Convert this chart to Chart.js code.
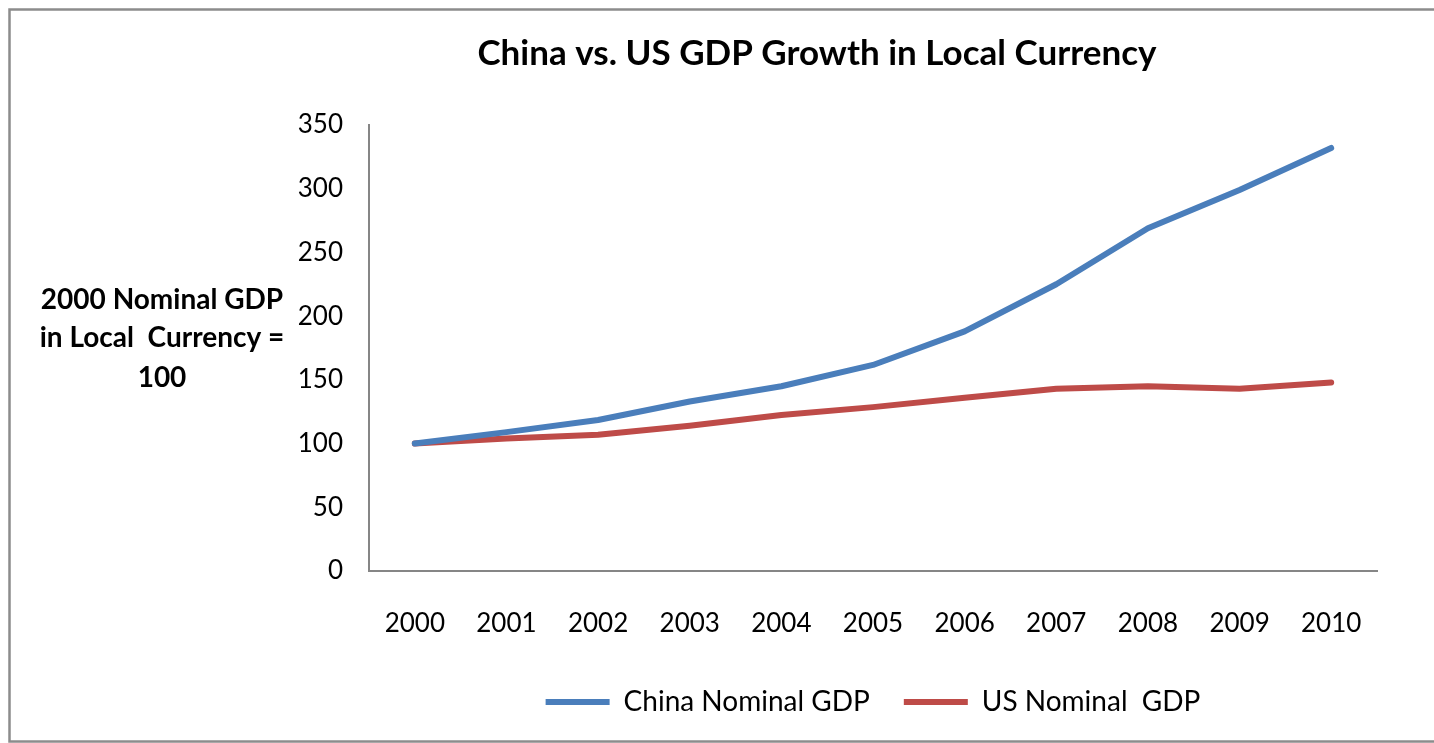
<!DOCTYPE html>
<html>
<head>
<meta charset="utf-8">
<script src="https://cdn.jsdelivr.net/npm/chart.js@4.4.1/dist/chart.umd.min.js"></script>
<style>
  html, body { margin: 0; padding: 0; background: #fff; }
  #wrap { position: relative; width: 1434px; height: 743px; }
</style>
</head>
<body>
<div id="wrap"><canvas id="gdpChart" width="1434" height="743"></canvas></div>
<script>
const years = ['2000', '2001', '2002', '2003', '2004', '2005', '2006', '2007', '2008', '2009', '2010'];
// nominal GDP indexed to 2000 = 100
const chinaGdp = [100, 109, 118.5, 133, 145, 161.7, 188, 225, 269, 299, 332];
const usGdp = [100, 104, 107, 114, 122.5, 128.6, 136, 143, 145, 143, 148];
const seriesNames = ['China Nominal GDP', 'US Nominal  GDP'];
const chartTitle = 'China vs. US GDP Growth in Local Currency';
const yCaption = ['2000 Nominal GDP', 'in Local  Currency =', '100'];
const yMin = 0;
const yMax = 350;
const yStep = 50;

const FONT = 'Lato, "Open Sans", sans-serif';

// frame, title and the horizontal y caption
const decorations = {
  id: 'decorations',
  beforeDraw(chart) {
    const ctx = chart.ctx;
    ctx.save();
    ctx.fillStyle = '#fff';
    ctx.fillRect(0, 0, chart.width, chart.height);
    ctx.strokeStyle = '#8c8c8c';
    ctx.lineWidth = 2.5;
    ctx.strokeRect(9.5, 9.5, chart.width + 20, chart.height - 11);
    ctx.restore();
  },
  afterDraw(chart) {
    const ctx = chart.ctx;
    ctx.save();
    ctx.fillStyle = '#000';
    ctx.textAlign = 'center';
    ctx.textBaseline = 'middle';
    ctx.font = 'bold 35px ' + FONT;
    ctx.fillText(chartTitle, 817, 54);
    ctx.font = 'bold 28px ' + FONT;
    const lineY = [300, 338, 378];
    yCaption.forEach((line, i) => ctx.fillText(line, 162, lineY[i]));
    ctx.restore();
  }
};

new Chart(document.getElementById('gdpChart'), {
  type: 'line',
  data: {
    labels: years,
    datasets: [
      {
        label: seriesNames[0],
        data: chinaGdp,
        borderColor: '#4a7ebb',
        backgroundColor: '#4a7ebb',
        borderWidth: 6,
        borderCapStyle: 'round',
        borderJoinStyle: 'round',
        pointRadius: 0,
        tension: 0
      },
      {
        label: seriesNames[1],
        data: usGdp,
        borderColor: '#be4b48',
        backgroundColor: '#be4b48',
        borderWidth: 6,
        borderCapStyle: 'round',
        borderJoinStyle: 'round',
        pointRadius: 0,
        tension: 0
      }
    ]
  },
  options: {
    responsive: false,
    animation: false,
    devicePixelRatio: 1,
    layout: { padding: { top: 125, right: 57, bottom: 17, left: 0 } },
    plugins: {
      title: { display: false },
      tooltip: { enabled: false },
      legend: {
        position: 'bottom',
        fullSize: false,
        labels: {
          usePointStyle: true,
          pointStyle: 'line',
          pointStyleWidth: 64,
          padding: 34,
          color: '#000',
          font: { family: FONT, size: 28 }
        }
      }
    },
    scales: {
      x: {
        offset: true,
        grid: { display: false, drawTicks: false },
        border: { display: true, color: '#868686', width: 2 },
        ticks: {
          color: '#000',
          padding: 37,
          maxRotation: 0,
          font: { family: FONT, size: 26 }
        },
        afterFit(scale) { scale.height = 83; }
      },
      y: {
        min: yMin,
        max: yMax,
        grid: { display: false, drawTicks: false },
        border: { display: true, color: '#868686', width: 2 },
        ticks: {
          stepSize: yStep,
          color: '#000',
          padding: 26,
          font: { family: FONT, size: 26 }
        },
        afterFit(scale) { scale.width = 369; }
      }
    }
  },
  plugins: [decorations]
});
</script>
</body>
</html>
